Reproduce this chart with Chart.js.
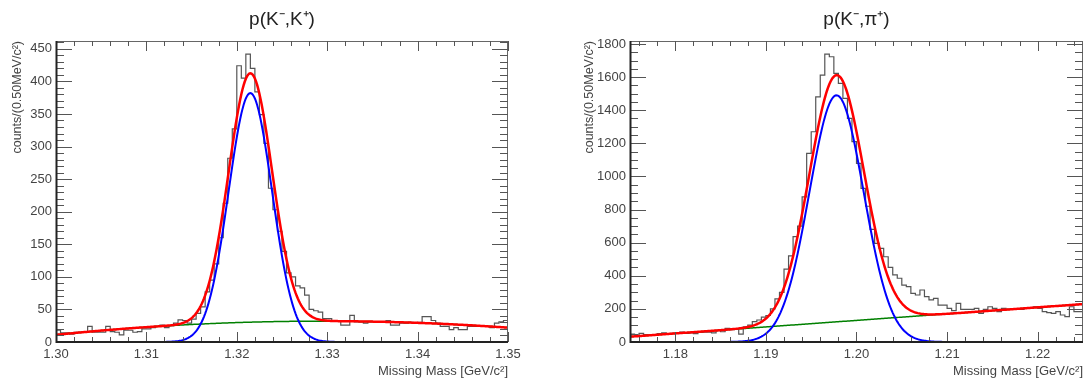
<!DOCTYPE html>
<html>
<head>
<meta charset="utf-8">
<script src="https://cdn.jsdelivr.net/npm/chart.js@4.4.1/dist/chart.umd.min.js"></script>
<style>
  body { margin: 0; background: #fff; }
  #wrap { position: relative; width: 1086px; height: 383px; }
  canvas { position: absolute; top: 0; }
</style>
</head>
<body>
<div id="wrap">
  <canvas id="kkChart" width="543" height="383" style="left:0"></canvas>
  <canvas id="kpiChart" width="543" height="383" style="left:543px"></canvas>
</div>
<script>
// p(K-,K+) missing mass, 100 bins of 0.5 MeV
const kkRange = [1.30, 1.35];
const kkCounts = [
  18, 14, 14, 12, 15, 15, 16, 24, 15, 15,
  15, 24, 16, 15, 11, 18, 18, 15, 16, 20,
  20, 22, 24, 26, 22, 25, 29, 34, 33, 29,
  35, 44, 54, 77, 95, 120, 160, 213, 282, 327,
  424, 405, 442, 420, 384, 349, 305, 236, 203, 170,
  139, 106, 100, 86, 83, 72, 50, 48, 46, 36,
  36, 33, 33, 26, 26, 41, 31, 31, 29, 31,
  31, 31, 31, 33, 26, 26, 29, 29, 30, 29,
  30, 39, 39, 33, 29, 24, 24, 19, 22, 19,
  19, 24, 24, 24, 24, 24, 22, 29, 31, 33
];
// fit: gaussian [amplitude, mean, sigma] + polynomial background in (x - range start)
const kkSignal = [382, 1.3215, 0.0024];
const kkBackground = [11, 1420, -24000];
const kkXTicks = [1.30, 1.31, 1.32, 1.33, 1.34, 1.35];
const kkYTicks = [0, 50, 100, 150, 200, 250, 300, 350, 400, 450];

// p(K-,pi+) missing mass, 100 bins of 0.5 MeV
const kpiRange = [1.175, 1.225];
const kpiCounts = [
  48, 42, 52, 45, 40, 45, 50, 55, 48, 52,
  55, 60, 52, 55, 50, 58, 60, 60, 55, 68,
  62, 82, 75, 80, 48, 92, 102, 123, 133, 150,
  160, 200, 260, 300, 440, 520, 636, 700, 877, 1139,
  1270, 1481, 1612, 1739, 1723, 1622, 1562, 1471, 1351, 1210,
  1079, 928, 820, 680, 596, 566, 515, 451, 405, 385,
  344, 334, 294, 284, 314, 274, 254, 264, 223, 223,
  203, 189, 233, 197, 197, 197, 203, 173, 197, 213,
  203, 183, 203, 197, 197, 197, 197, 203, 203, 213,
  203, 183, 178, 173, 183, 163, 153, 213, 183, 183
];
const kpiSignal = [1490, 1.1978, 0.0030];
const kpiBackground = [32, 3940, 0];
const kpiXTicks = [1.18, 1.19, 1.20, 1.21, 1.22];
const kpiYTicks = [0, 200, 400, 600, 800, 1000, 1200, 1400, 1600, 1800];

const FONT = '"Liberation Sans", Arial, sans-serif';

function histPoints(range, counts) {
  const w = (range[1] - range[0]) / counts.length;
  const pts = counts.map((c, i) => ({ x: range[0] + i * w, y: c }));
  pts.push({ x: range[1], y: counts[counts.length - 1] });
  return pts;
}

function fitPoints(range, signal, background, part) {
  const pts = [];
  const n = 400;
  for (let i = 0; i <= n; i++) {
    const x = range[0] + (range[1] - range[0]) * i / n;
    const u = x - range[0];
    const bg = background[0] + background[1] * u + background[2] * u * u;
    const g = signal[0] * Math.exp(-0.5 * Math.pow((x - signal[1]) / signal[2], 2));
    let y = g + bg;
    if (part === 'signal') y = g;
    if (part === 'background') y = bg;
    pts.push({ x: x, y: y });
  }
  return pts;
}

// frame, inward ticks on all sides, titles
const rootFrame = {
  id: 'rootFrame',
  afterDatasetsDraw(chart, args, o) {
    const { ctx, chartArea: a, scales } = chart;
    const xs = scales.x, ys = scales.y;
    ctx.save();

    ctx.strokeStyle = '#666';
    ctx.lineWidth = 1;
    ctx.beginPath();
    ctx.moveTo(a.left, a.top + 0.5); ctx.lineTo(a.right, a.top + 0.5);
    ctx.moveTo(a.right - 0.5, a.top); ctx.lineTo(a.right - 0.5, a.bottom);
    ctx.stroke();

    // x ticks
    ctx.strokeStyle = '#555';
    ctx.beginPath();
    const xk0 = Math.ceil(xs.min / o.xMinor - 1e-6), xk1 = Math.floor(xs.max / o.xMinor + 1e-6);
    for (let k = xk0; k <= xk1; k++) {
      const px = Math.round(xs.getPixelForValue(k * o.xMinor)) + 0.5;
      const len = k % o.xRatio === 0 ? 10 : 5;
      ctx.moveTo(px, a.bottom); ctx.lineTo(px, a.bottom - len);
      ctx.moveTo(px, a.top); ctx.lineTo(px, a.top + len);
    }
    // y ticks
    const yk0 = Math.ceil(ys.min / o.yMinor - 1e-6), yk1 = Math.floor(ys.max / o.yMinor + 1e-6);
    for (let k = yk0; k <= yk1; k++) {
      const py = Math.round(ys.getPixelForValue(k * o.yMinor)) + 0.5;
      const len = k % o.yRatio === 0 ? 16 : 8;
      ctx.moveTo(a.left, py); ctx.lineTo(a.left + len, py);
      ctx.moveTo(a.right, py); ctx.lineTo(a.right - len, py);
    }
    ctx.stroke();

    ctx.strokeStyle = '#222';
    ctx.lineWidth = 2;
    ctx.beginPath();
    ctx.moveTo(a.left, a.bottom); ctx.lineTo(a.right, a.bottom);
    ctx.moveTo(a.left + 0.5, a.top); ctx.lineTo(a.left + 0.5, a.bottom + 1);
    ctx.stroke();

    // titles
    ctx.fillStyle = '#222';
    ctx.font = '19px ' + FONT;
    ctx.textAlign = 'center';
    ctx.textBaseline = 'middle';
    ctx.fillText(o.title, (a.left + a.right) / 2, 20);

    ctx.fillStyle = '#444';
    ctx.font = '13px ' + FONT;
    ctx.textAlign = 'right';
    ctx.fillText('Missing Mass [GeV/c²]', a.right, 371);

    ctx.save();
    ctx.translate(o.yTitleX, a.top);
    ctx.rotate(-Math.PI / 2);
    ctx.font = '12.5px ' + FONT;
    ctx.textAlign = 'right';
    ctx.fillText('counts/(0.50MeV/c²)', 0, 0);
    ctx.restore();

    ctx.restore();
  }
};

function makeChart(id, cfg) {
  const ctx = document.getElementById(id).getContext('2d');
  return new Chart(ctx, {
    type: 'line',
    data: {
      datasets: [
        { data: fitPoints(cfg.range, cfg.signal, cfg.background, 'total'),
          borderColor: '#ff0000', borderWidth: 2.5, pointRadius: 0, tension: 0 },
        { data: fitPoints(cfg.range, cfg.signal, cfg.background, 'signal'),
          borderColor: '#0000ff', borderWidth: 2, pointRadius: 0, tension: 0 },
        { data: fitPoints(cfg.range, cfg.signal, cfg.background, 'background'),
          borderColor: '#008000', borderWidth: 1.5, pointRadius: 0, tension: 0 },
        { data: histPoints(cfg.range, cfg.counts),
          borderColor: '#555', borderWidth: 1.2, pointRadius: 0, stepped: 'before' }
      ]
    },
    options: {
      responsive: false,
      animation: false,
      devicePixelRatio: 1,
      layout: { padding: { top: 41, right: cfg.padRight, left: 0, bottom: 0 } },
      plugins: {
        legend: { display: false },
        tooltip: { enabled: false },
        rootFrame: {
          title: cfg.title, yTitleX: cfg.yTitleX,
          xMinor: 0.002, xRatio: 5, yMinor: cfg.yMinor, yRatio: cfg.yRatio
        }
      },
      scales: {
        x: {
          type: 'linear', min: cfg.range[0], max: cfg.range[1],
          afterFit(s) { s.height = 41; },
          afterBuildTicks(s) { s.ticks = cfg.xTicks.map(v => ({ value: v })); },
          grid: { display: false, drawTicks: false },
          border: { display: false },
          ticks: {
            padding: 5, maxRotation: 0, autoSkip: false,
            color: '#444', font: { family: FONT, size: 13 },
            callback: v => v.toFixed(2)
          }
        },
        y: {
          type: 'linear', min: 0, max: cfg.yMax,
          afterFit(s) { s.width = cfg.yAxisWidth; },
          afterBuildTicks(s) { s.ticks = cfg.yTicks.map(v => ({ value: v })); },
          grid: { display: false, drawTicks: false },
          border: { display: false },
          ticks: {
            padding: 4, autoSkip: false,
            color: '#444', font: { family: FONT, size: 13 },
            callback: v => String(v)
          }
        }
      }
    },
    plugins: [rootFrame]
  });
}

makeChart('kkChart', {
  range: kkRange, counts: kkCounts, signal: kkSignal, background: kkBackground,
  xTicks: kkXTicks, yTicks: kkYTicks,
  title: 'p(K\u207B,K\u207A)', yMax: 462, yMinor: 10, yRatio: 5,
  yAxisWidth: 56, padRight: 35, yTitleX: 18
});

makeChart('kpiChart', {
  range: kpiRange, counts: kpiCounts, signal: kpiSignal, background: kpiBackground,
  xTicks: kpiXTicks, yTicks: kpiYTicks,
  title: 'p(K\u207B,\u03C0\u207A)', yMax: 1818, yMinor: 50, yRatio: 4,
  yAxisWidth: 87, padRight: 3, yTitleX: 47
});
</script>
</body>
</html>
